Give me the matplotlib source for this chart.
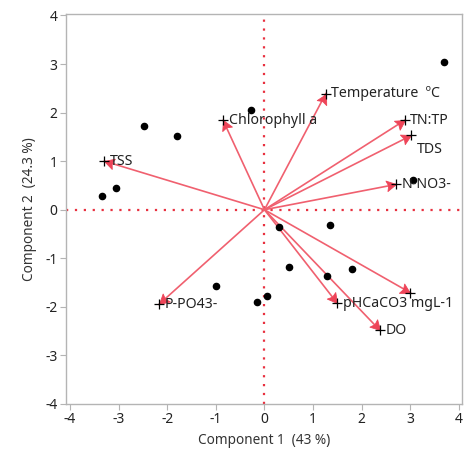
import numpy as np
import matplotlib

matplotlib.use("Agg")
import matplotlib.pyplot as plt
from matplotlib.markers import MarkerStyle
from matplotlib.path import Path
from matplotlib.transforms import Affine2D

# Principal component scores (one dot per sample)
score_x = [3.70, -0.27, -2.47, -1.80, -3.05, -3.33, 3.06, 0.29, 1.34,
           0.51, 1.28, 1.80, -1.00, 0.06, -0.16]
score_y = [3.05, 2.06, 1.72, 1.51, 0.44, 0.29, 0.61, -0.35, -0.32,
           -1.17, -1.36, -1.22, -1.57, -1.78, -1.91]

# Variable loadings (scaled), drawn as rays from the origin
var_names = ["Temperature  \u00baC", "Chlorophyll a", "TN:TP", "TDS", "TSS",
             "N-NO3-", "P-PO43-", "", "pHCaCO3 mgL-1", "DO"]
var_x = [1.26, -0.85, 2.88, 3.02, -3.29, 2.70, -2.17, 3.00, 1.50, 2.37]
var_y = [2.39, 1.84, 1.84, 1.53, 1.00, 0.52, -1.95, -1.71, -1.93, -2.48]
# TDS label sits below its ray end
label_dy = [0, 0, 0, -14, 0, 0, 0, 0, 0, 0]

ticks = [-4, -3, -2, -1, 0, 1, 2, 3, 4]
ray_color = "#f0606f"
head_color = "#ee4458"
zero_color = "#e8303f"
frame_color = "#b4b4b4"

# arrowhead with its tip on the origin of the marker, slight notch at the back
head_path = Path([(0, 0), (-1, 0.55), (-0.82, 0), (-1, -0.55), (0, 0)],
                 [Path.MOVETO, Path.LINETO, Path.LINETO, Path.LINETO, Path.CLOSEPOLY])

plt.rcParams["font.family"] = ["Noto Sans", "DejaVu Sans"]
fig = plt.figure(figsize=(4.69, 4.58), dpi=100)
ax = fig.add_axes([0.1407, 0.118, 0.8443, 0.8514])
ax.set_xlim(-4.08, 4.06)
ax.set_ylim(-4.0, 4.03)

ax.axhline(0, color=zero_color, lw=1.6, ls=(0, (1, 3)), zorder=1)
ax.axvline(0, color=zero_color, lw=1.6, ls=(0, (1, 3)), zorder=1)

for name, x, y, dy in zip(var_names, var_x, var_y, label_dy):
    ax.plot([0, x], [0, y], color=ray_color, lw=1.2, zorder=2)
    angle = np.degrees(np.arctan2(y, x))
    head = MarkerStyle(head_path, transform=Affine2D().rotate_deg(angle))
    ax.plot(x, y, marker=head, color=head_color, mec=head_color, ms=14, mew=0.6, zorder=3)
    ax.plot(x, y, marker="+", color="black", ms=7, mew=0.9, zorder=4)
    if name:
        ax.annotate(name, (x, y), textcoords="offset points",
                    xytext=(4, dy * 0.72), ha="left", va="center",
                    fontsize=10.2, color="#222222", zorder=5)

ax.scatter(score_x, score_y, s=20, color="black", zorder=4)

ax.set_xticks(ticks)
ax.set_yticks(ticks)
ax.set_xticklabels([str(t) for t in ticks])
ax.set_yticklabels([str(t) for t in ticks])
ax.tick_params(length=4, color=frame_color, labelsize=10, labelcolor="#222222", pad=2)
for t in ax.xaxis.get_major_ticks():
    if t.get_loc() == 0:
        t.tick1line.set_color(zero_color)
for t in ax.yaxis.get_major_ticks():
    if t.get_loc() == 0:
        t.tick1line.set_color(zero_color)
for sp in ax.spines.values():
    sp.set_color(frame_color)
    sp.set_linewidth(1.0)

ax.set_xlabel("Component 1  (43 %)", fontsize=9.8, color="#333333", labelpad=4)
ax.set_ylabel("Component 2  (24.3 %)", fontsize=9.8, color="#333333", labelpad=6)

fig.savefig("out.png", dpi=100)
